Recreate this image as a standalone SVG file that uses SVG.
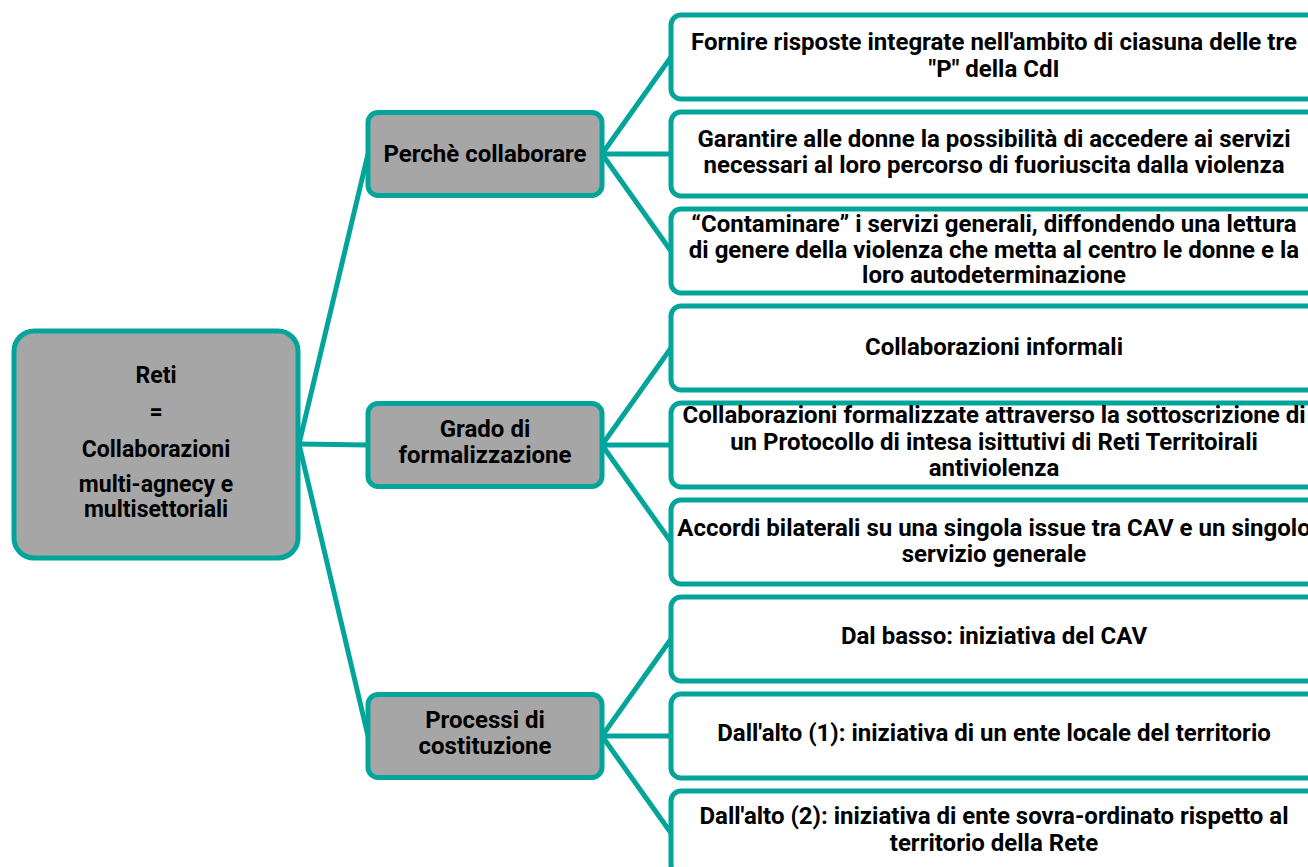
<svg xmlns="http://www.w3.org/2000/svg" width="1308" height="867" viewBox="0 0 1308 867">
<style>
.root{fill:#a6a6a6;stroke:#03a59b;stroke-width:5}
.mid{fill:#a6a6a6;stroke:#03a59b;stroke-width:5}
.leaf{fill:#ffffff;stroke:#03a59b;stroke-width:5}
.conn line{stroke:#03a59b;stroke-width:5;stroke-linecap:round}
text{font-family:Roboto,"Liberation Sans",sans-serif;font-weight:700;font-size:24px;fill:#000;text-anchor:middle}
.r{font-size:23px}
</style>
<rect x="0" y="0" width="1308" height="867" fill="#ffffff"/>
<g id="connectors" class="conn">
<line x1="299" y1="444" x2="368" y2="154"/>
<line x1="299" y1="444" x2="368" y2="445"/>
<line x1="299" y1="444" x2="368" y2="736"/>
<line x1="602" y1="154" x2="671" y2="57"/>
<line x1="602" y1="154" x2="671" y2="154"/>
<line x1="602" y1="154" x2="671" y2="251"/>
<line x1="602" y1="445" x2="671" y2="348"/>
<line x1="602" y1="445" x2="671" y2="445"/>
<line x1="602" y1="445" x2="671" y2="542"/>
<line x1="602" y1="736" x2="671" y2="639"/>
<line x1="602" y1="736" x2="671" y2="736"/>
<line x1="602" y1="736" x2="671" y2="833"/>
</g>
<g id="root">
<rect class="root" x="14" y="331" width="284" height="227" rx="20"/>
<text class="r" x="156" y="383">Reti</text>
<text class="r" x="156" y="420">=</text>
<text class="r" x="156" y="457">Collaborazioni</text>
<text class="r" x="156" y="492">multi-agnecy e</text>
<text class="r" x="156" y="517">multisettoriali</text>
</g>
<g id="perche">
<rect class="mid" x="368" y="112.5" width="234" height="83" rx="10"/>
<text x="485" y="162">Perchè collaborare</text>
</g>
<g id="grado">
<rect class="mid" x="368" y="403.5" width="234" height="83" rx="10"/>
<text x="485" y="437">Grado di</text>
<text x="485" y="463">formalizzazione</text>
</g>
<g id="processi">
<rect class="mid" x="368" y="694.5" width="234" height="83" rx="10"/>
<text x="485" y="728">Processi di</text>
<text x="485" y="754">costituzione</text>
</g>
<g id="leaf1">
<rect class="leaf" x="671" y="15" width="646" height="84" rx="10"/>
<text x="994" y="50">Fornire risposte integrate nell'ambito di ciasuna delle tre</text>
<text x="994" y="77">"P" della CdI</text>
</g>
<g id="leaf2">
<rect class="leaf" x="671" y="112" width="646" height="84" rx="10"/>
<text x="994" y="147">Garantire alle donne la possibilità di accedere ai servizi</text>
<text x="994" y="173">necessari al loro percorso di fuoriuscita dalla violenza</text>
</g>
<g id="leaf3">
<rect class="leaf" x="671" y="209" width="646" height="84" rx="10"/>
<text x="994" y="232">“Contaminare” i servizi generali, diffondendo una lettura</text>
<text x="994" y="258">di genere della violenza che metta al centro le donne e la</text>
<text x="994" y="283">loro autodeterminazione</text>
</g>
<g id="leaf4">
<rect class="leaf" x="671" y="306" width="646" height="84" rx="10"/>
<text x="994" y="355">Collaborazioni informali</text>
</g>
<g id="leaf5">
<rect class="leaf" x="671" y="403" width="646" height="84" rx="10"/>
<text x="994" y="423">Collaborazioni formalizzate attraverso la sottoscrizione di</text>
<text x="994" y="450">un Protocollo di intesa isittutivi di Reti Territoirali</text>
<text x="994" y="476">antiviolenza</text>
</g>
<g id="leaf6">
<rect class="leaf" x="671" y="500" width="646" height="84" rx="10"/>
<text x="994" y="536">Accordi bilaterali su una singola issue tra CAV e un singolo</text>
<text x="994" y="562">servizio generale</text>
</g>
<g id="leaf7">
<rect class="leaf" x="671" y="597" width="646" height="84" rx="10"/>
<text x="994" y="644">Dal basso: iniziativa del CAV</text>
</g>
<g id="leaf8">
<rect class="leaf" x="671" y="694" width="646" height="84" rx="10"/>
<text x="994" y="741">Dall'alto (1): iniziativa di un ente locale del territorio</text>
</g>
<g id="leaf9">
<rect class="leaf" x="671" y="791" width="646" height="84" rx="10"/>
<text x="994" y="824">Dall'alto (2): iniziativa di ente sovra-ordinato rispetto al</text>
<text x="994" y="851">territorio della Rete</text>
</g>
</svg>
